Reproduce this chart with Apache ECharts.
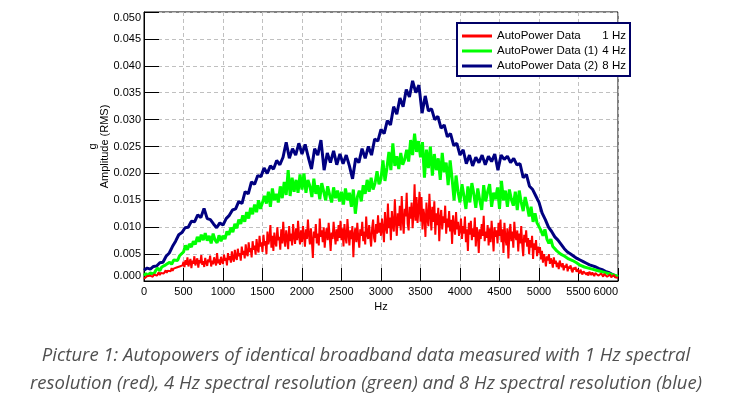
<!DOCTYPE html>
<html>
<head>
<meta charset="utf-8">
<script src="https://cdn.jsdelivr.net/npm/echarts@6/dist/echarts.min.js"></script>
<style>
html,body{margin:0;padding:0;background:#fff;}
#chart{width:732px;height:411px;}
</style>
</head>
<body>
<div id="chart"></div>
<script>
// Frequency axis (Hz)
const freqMin = 0, freqMax = 6000, freqTick = 500;
// Bin spacing used for each series (Hz)
const redStep = 12.5, greenStep = 25, blueStep = 40;

const seriesNames = ['AutoPower Data', 'AutoPower Data (1)', 'AutoPower Data (2)'];
const seriesRes = ['1 Hz', '4 Hz', '8 Hz'];

// Amplitude values in milli-g (RMS)
const red1Hz = [
  0.4,0.7,0.5,0.9,0.6,0.8,1.0,0.7,1.1,0.8, 1.2,0.9,1.4,1.0,1.3,1.6,1.1,1.5,1.2,1.8,
  1.4,1.7,2.0,1.5,1.9,1.6,2.2,1.8,2.4,1.9, 2.3,2.6,2.0,2.5,2.8,2.2,2.7,3.0,2.4,2.9,
  3.6,2.6,3.9,3.0,4.4,2.7,3.5,4.1,2.4,3.8, 3.2,4.6,2.9,3.6,4.2,2.5,3.9,3.3,4.8,3.0,
  3.7,2.6,4.3,3.4,2.8,4.0,3.5,4.7,2.7,3.8, 3.1,4.4,3.6,2.9,5.2,3.3,4.0,3.0,4.5,3.6,
  3.2,4.9,3.8,4.3,2.9,5.2,3.9,4.6,3.4,5.5, 4.2,3.6,5.8,4.4,3.9,6.0,4.6,5.2,3.8,6.4,
  4.9,5.6,4.2,6.8,5.1,4.6,7.2,5.4,6.1,4.4, 7.4,5.8,6.6,4.9,7.8,6.0,5.3,8.4,6.4,7.2,
  5.4,8.6,6.6,7.4,5.0,9.2,6.8,7.8,10.4,6.2, 8.4,5.6,9.0,7.2,6.4,10.0,7.6,8.2,5.8,9.6,
  7.0,11.0,7.8,6.4,9.4,8.0,5.9,10.2,7.4,8.8, 6.6,10.6,8.2,6.9,9.8,7.6,11.2,8.4,6.8,9.4,
  7.2,10.2,8.4,6.4,9.6,7.8,11.4,8.6,6.8,9.8, 7.4,4.3,9.2,8.0,10.6,7.0,8.8,6.6,11.6,8.2,
  9.4,7.2,10.0,6.2,8.6,9.8,7.6,10.8,8.4,5.6, 9.0,7.8,11.0,8.6,6.8,9.6,7.4,10.4,8.0,11.2,
  7.6,9.8,6.4,10.6,8.2,7.0,11.5,8.8,6.6,9.4, 7.8,10.2,4.4,8.6,9.8,7.2,10.8,8.0,6.2,9.6,
  8.4,11.0,7.4,9.2,6.8,12.0,8.6,7.8,10.4,8.2, 6.4,9.8,11.4,8.0,7.2,10.6,8.8,12.2,9.0,10.8,
  8.4,11.6,9.6,7.2,12.8,10.0,8.8,14.4,9.8,11.8, 7.6,13.0,10.4,9.2,15.2,11.0,8.4,12.6,10.2,14.0,
  9.4,15.8,11.4,8.8,13.4,12.0,16.4,10.6,9.4,13.8, 11.6,14.6,9.8,12.4,18.0,11.2,15.6,10.8,13.2,16.6,
  11.0,15.6,9.6,13.4,12.0,8.2,14.6,11.6,10.2,16.2, 12.4,9.4,13.8,11.0,14.8,8.6,12.6,10.4,13.6,7.4,
  11.8,13.2,9.6,12.0,10.8,14.0,8.8,11.6,10.0,13.0, 9.2,11.4,6.9,12.2,10.0,8.6,12.8,9.6,11.0,8.4,
  9.4,11.6,7.8,10.2,8.8,12.0,7.2,9.6,5.6,10.8, 8.6,11.2,7.6,9.8,8.2,11.8,6.4,10.0,8.8,5.2,
  9.6,7.8,10.6,8.4,12.1,7.4,9.2,8.0,10.4,6.6, 9.8,7.2,11.2,8.6,5.5,10.0,8.2,9.4,7.0,10.8,
  8.4,11.4,7.2,9.6,5.2,10.8,8.0,6.6,9.8,4.2, 8.8,10.6,7.4,9.2,6.2,11.0,8.4,7.6,9.4,5.5,
  8.8,7.0,10.2,6.8,4.6,8.6,7.2,9.4,6.4,8.0, 5.0,7.6,6.2,8.4,4.1,7.0,5.8,7.6,4.6,6.4,
  5.2,6.3,4.0,5.6,3.4,5.0,4.2,2.7,4.6,3.8, 5.0,3.2,4.2,3.6,2.5,4.4,3.2,3.8,2.6,3.4,
  2.2,3.8,3.0,2.6,3.3,2.0,2.9,2.5,3.2,1.8, 2.7,2.3,2.9,2.0,1.6,2.5,2.1,2.6,1.7,2.2,
  1.9,1.4,2.1,1.6,1.2,1.8,1.5,1.9,1.2,1.6, 1.0,1.7,1.4,1.1,1.6,1.3,0.9,1.5,1.2,1.4,
  1.0,1.3,0.9,1.4,1.1,0.8,1.3,1.0,1.2,0.8, 1.1,0.9,1.2,0.7,1.0,0.8,1.1,0.7,0.9,0.6,
  0.6
];
const green4Hz = [
  1.0,1.4,0.9,1.5,1.7,1.3,2.0,2.4,1.9,2.6,2.3,3.0,2.8,3.5,3.1,3.9,4.2,3.8,4.7,5.0,
  5.4,6.6,5.8,6.9,6.3,7.4,6.8,8.2,7.3,8.6,7.6,8.9,7.5,8.4,7.0,8.8,7.6,7.1,8.5,7.4,
  8.4,7.8,9.2,8.6,9.9,9.1,10.6,9.8,11.4,10.6,12.2,11.0,12.8,11.6,13.6,12.4,14.2,12.8,15.0,13.4,
  13.6,15.8,14.4,16.6,13.8,17.2,15.0,16.2,14.6,17.6,15.4,18.4,16.0,20.6,15.8,19.2,16.6,18.8,16.4,19.8,
  17.0,20.0,16.4,18.8,17.6,15.6,19.0,16.2,17.8,15.2,18.2,16.6,15.0,17.6,16.0,14.6,17.4,15.4,16.8,14.8,
  16.6,14.2,17.2,15.0,16.4,13.8,17.0,12.5,15.6,16.8,14.8,17.8,16.2,18.8,16.6,19.2,17.0,18.2,20.4,18.0,
  19.0,22.4,18.6,21.0,24.0,20.6,25.6,21.4,23.2,20.8,23.8,21.6,22.6,24.4,22.2,26.2,23.4,27.4,24.0,26.0,
  23.0,25.8,19.2,24.4,21.0,25.0,19.6,23.6,20.6,22.8,18.8,23.8,20.2,22.0,17.8,22.4,19.0,15.0,19.6,16.6,
  14.6,18.0,15.8,13.4,17.6,14.6,18.2,16.2,13.6,17.2,15.0,13.2,17.8,14.8,16.6,18.0,13.8,16.4,15.2,17.4,
  13.4,18.6,15.0,16.8,13.8,17.0,15.2,14.0,16.6,13.2,16.8,14.6,13.0,15.6,14.0,12.0,13.8,11.0,12.6,10.8,
  10.6,9.4,8.4,9.6,7.8,7.0,7.8,6.4,6.2,5.6,5.8,5.0,4.8,4.6,4.5,4.1,4.2,3.8,3.7,3.4,
  3.3,2.9,3.0,2.6,2.7,2.4,2.4,2.2,2.2,2.0,2.0,1.8,1.8,1.6,1.6,1.4,1.3,1.2,1.1,1.0,
  0.8
];
const blue8Hz = [
  2.0,2.4,2.2,2.7,2.8,3.4,3.5,4.6,5.2,6.4,7.4,8.6,9.0,9.9,10.0,11.1,11.0,12.3,11.8,13.5,11.6,11.4,10.6,9.9,10.8,
  10.4,11.6,12.2,13.2,13.4,14.8,14.4,16.6,16.2,18.4,18.0,19.6,19.4,21.0,20.0,21.4,20.8,22.4,21.6,23.0,25.8,22.8,24.6,23.4,25.6,
  23.6,25.4,23.0,20.8,24.6,23.4,26.2,20.6,23.8,22.0,24.2,21.6,23.6,21.8,23.4,21.4,19.0,22.8,22.0,24.6,22.8,25.0,23.4,26.4,26.0,
  28.2,27.4,29.8,29.0,32.4,31.0,34.0,32.4,35.6,34.2,37.2,35.0,36.4,31.2,34.4,31.6,32.0,30.0,30.6,28.4,29.0,26.8,27.4,25.2,25.6,
  23.4,24.4,21.8,23.4,21.4,23.0,22.0,23.4,21.6,23.2,22.2,23.6,20.6,23.4,22.6,23.2,22.0,22.8,21.6,21.8,19.2,19.8,17.6,17.0,15.8,
  14.6,12.6,11.4,10.0,9.2,8.2,7.6,6.8,6.0,5.4,5.0,4.6,4.2,3.9,3.6,3.3,3.0,2.8,2.6,2.3,2.1,1.8,1.6,1.3,1.0,
  0.7
];

const ampMin = 0, ampMax = 50, ampTick = 5; // milli-g

const captionLines = [
  'Picture 1: Autopowers of identical broadband data measured with 1 Hz spectral',
  'resolution (red), 4 Hz spectral resolution (green) and 8 Hz spectral resolution (blue)'
];

function toPairs(vals, step) { return vals.map((v, i) => [i * step, v]); }

const chart = echarts.init(document.getElementById('chart'), null, {renderer: 'canvas'});
const baseFont = 'Liberation Sans, Arial, sans-serif';

chart.setOption({
  animation: false,
  backgroundColor: '#ffffff',
  textStyle: {fontFamily: baseFont},
  grid: {left: 144, top: 12, width: 474, height: 269, show: true, borderColor: '#000', borderWidth: 1, backgroundColor: 'transparent'},
  legend: {
    left: 457, top: 23, orient: 'vertical',
    padding: [6, 4, 3, 5], itemGap: 1,
    itemWidth: 30, itemHeight: 3, icon: 'rect',
    backgroundColor: '#fff', borderColor: '#000066', borderWidth: 2, borderRadius: 0,
    data: seriesNames,
    formatter: function (name) {
      const i = seriesNames.indexOf(name);
      return '{a|' + name + '}{b|' + seriesRes[i] + '}';
    },
    textStyle: {
      color: '#000', fontFamily: baseFont, fontSize: 11.5, lineHeight: 14,
      rich: {
        a: {width: 104, fontSize: 11.5, fontFamily: baseFont, color: '#000'},
        b: {width: 25, align: 'right', fontSize: 11.5, fontFamily: baseFont, color: '#000'}
      }
    }
  },
  xAxis: {
    type: 'value', min: freqMin, max: freqMax, interval: freqTick,
    name: 'Hz', nameLocation: 'middle', nameGap: 19,
    nameTextStyle: {color: '#000', fontSize: 11, fontFamily: baseFont},
    axisLine: {show: true, onZero: false, lineStyle: {color: '#000', width: 1}},
    axisTick: {show: true, inside: true, length: 13, lineStyle: {color: '#000', width: 1}},
    axisLabel: {color: '#000', fontSize: 11, margin: 5, fontFamily: baseFont,
      formatter: v => String(v), showMaxLabel: true, showMinLabel: true, hideOverlap: false, alignMaxLabel: 'right'},
    splitLine: {show: true, lineStyle: {color: '#c0c0c0', type: [4, 3], width: 1}}
  },
  yAxis: {
    type: 'value', min: ampMin, max: ampMax, interval: ampTick,
    name: 'g\nAmplitude (RMS)', nameLocation: 'middle', nameGap: 33, nameRotate: 90,
    nameMoveOverlap: false,
    nameTextStyle: {color: '#000', fontSize: 11, fontFamily: baseFont, lineHeight: 12, align: 'center'},
    axisLine: {show: true, lineStyle: {color: '#000', width: 1}},
    axisTick: {show: true, inside: true, length: 15, lineStyle: {color: '#000', width: 1}},
    axisLabel: {
      color: '#000', fontSize: 11, margin: 3, fontFamily: baseFont,
      formatter: v => (v / 1000).toFixed(3),
      verticalAlignMinLabel: 'bottom', verticalAlignMaxLabel: 'top'
    },
    splitLine: {show: true, lineStyle: {color: '#c0c0c0', type: [4, 3], width: 1}}
  },
  series: [
    {name: seriesNames[0], type: 'line', data: toPairs(red1Hz, redStep), showSymbol: false, symbol: 'none',
     color: '#ff0000', lineStyle: {color: '#ff0000', width: 2}, z: 4},
    {name: seriesNames[1], type: 'line', data: toPairs(green4Hz, greenStep), showSymbol: false, symbol: 'none',
     color: '#00ff00', lineStyle: {color: '#00ff00', width: 3}, z: 3},
    {name: seriesNames[2], type: 'line', data: toPairs(blue8Hz, blueStep), showSymbol: false, symbol: 'none',
     color: '#000080', lineStyle: {color: '#000080', width: 3}, z: 2}
  ],
  graphic: [
    {type: 'text', left: 'center', top: 342,
     style: {text: captionLines.join('\n'), font: 'italic 18.5px "Open Sans", sans-serif', fill: '#505050', textAlign: 'center', lineHeight: 28}}
  ]
});
</script>
</body>
</html>
